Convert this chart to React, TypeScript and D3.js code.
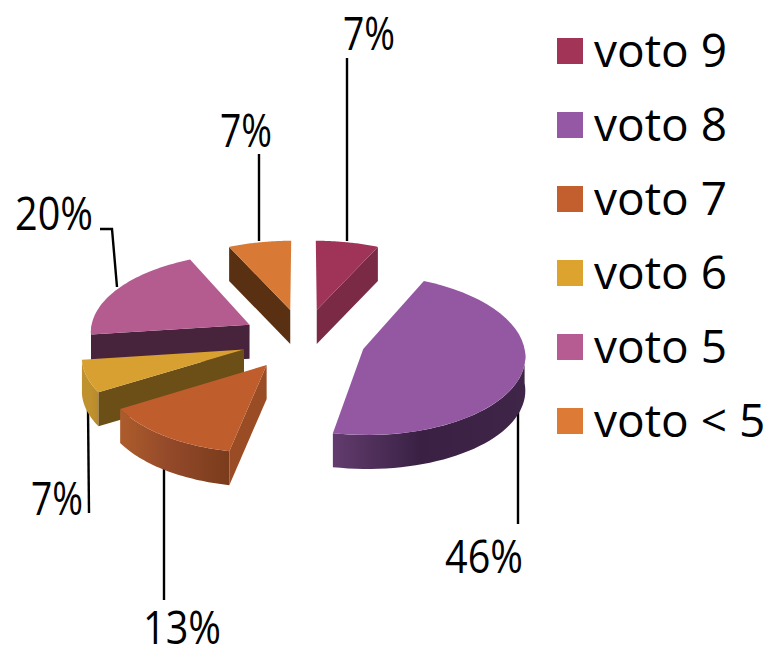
import React from "react";
import * as d3 from "d3";

const categories = ["voto 9", "voto 8", "voto 7", "voto 6", "voto 5", "voto < 5"];
const shares = [7, 46.2, 13.2, 6.6, 20, 7];
const labels = ["7%", "46%", "13%", "7%", "20%", "7%"];

// layout & style (separate from the data)
const W = 771, H = 648;
const FONT = "'Open Sans', sans-serif";
const faceColors = ["#a03358", "#9458a3", "#bf5d2d", "#d8a030", "#b45c90", "#d87a35"];
const legendColors = ["#a23458", "#9558a5", "#c35f2f", "#dca32f", "#b75c93", "#dd7a35"];
const wallColors = ["#7a2a45", "#3d2545", "#9a4d24", "#6b4f17", "#47243b", "#5a3013"];
const rimStops: [string, string, string][] = [
  ["#7a2a45", "#7a2a45", "#7a2a45"],
  ["#623c6e", "#3a2144", "#3f2548"],
  ["#ad5c2b", "#93492a", "#7a3c1c"],
  ["#c0922f", "#c0922f", "#b88a2a"],
  ["#47243b", "#47243b", "#47243b"],
  ["#5a3013", "#5a3013", "#5a3013"],
];
const drawOrder = [4, 3, 2, 5, 0, 1];
const cx = 303.5, cy = 339.3, A = 160, B = 79, K = 0.07, EXPLODE = 0.39, DEPTH = 34;

// leader lines and label anchors, by slice index
const leaders: [number, number][][] = [
  [[347, 58], [347, 241]],
  [[518, 408], [518, 524]],
  [[164, 468], [164, 600]],
  [[88, 408], [89, 513]],
  [[100, 229], [112, 229], [117, 287]],
  [[259, 154], [259, 241]],
];
const labelPos: [number, number][] = [[369, 50], [484, 573], [182, 644], [57, 515], [54, 230], [246, 147]];

const pie = d3.pie<number>().value((d) => d).sort(null);
const arcs = pie(shares);

function project(X: number, Z: number): [number, number] {
  return [cx + A * X * (1 + K * Z), cy + B * Z * (1 + K * Z)];
}

const line = d3.line<[number, number]>();
const legendY = d3.scalePoint<string>().domain(categories).range([38, 408]);

function rimPoints(t0: number, t1: number, ox: number, oz: number) {
  const n = 40;
  return d3.range(n + 1).map((i) => {
    const t = t0 + ((t1 - t0) * i) / n;
    return project(ox + Math.sin(t), oz - Math.cos(t));
  });
}

export default function App() {
  const slices = arcs.map((a, i) => {
    const mid = (a.startAngle + a.endAngle) / 2;
    const ox = EXPLODE * Math.sin(mid), oz = -EXPLODE * Math.cos(mid);
    const apex = project(ox, oz);
    const rim = rimPoints(a.startAngle, a.endAngle, ox, oz);
    const down = (p: [number, number]): [number, number] => [p[0], p[1] + DEPTH];
    const top = line([apex, ...rim])! + "Z";
    const startP = rim[0], endP = rim[rim.length - 1];
    const walls: string[] = [];
    if (Math.sin(a.startAngle) < -1e-6) walls.push(line([apex, startP, down(startP), down(apex)])! + "Z");
    if (Math.sin(a.endAngle) > 1e-6) walls.push(line([apex, endP, down(endP), down(apex)])! + "Z");
    const r0 = Math.max(a.startAngle, Math.PI / 2), r1 = Math.min(a.endAngle, (3 * Math.PI) / 2);
    let rimPath: string | null = null;
    let gx: [number, number] = [0, 1];
    if (r1 > r0) {
      const vis = rimPoints(r0, r1, ox, oz);
      rimPath = line([...vis, ...vis.slice().reverse().map(down)])! + "Z";
      const xs = vis.map((p) => p[0]);
      gx = [d3.min(xs)!, d3.max(xs)!];
    }
    return { i, top, walls, rimPath, gx };
  });

  return (
    <svg width={W} height={H} style={{ position: "absolute", left: 0, top: 0, background: "#fff" }}>
      <defs>
        {slices.map((s) =>
          s.rimPath ? (
            <linearGradient key={s.i} id={`rim${s.i}`} gradientUnits="userSpaceOnUse" x1={s.gx[0]} x2={s.gx[1]} y1={0} y2={0}>
              <stop offset="0" stopColor={rimStops[s.i][0]} />
              <stop offset="0.45" stopColor={rimStops[s.i][1]} />
              <stop offset="1" stopColor={rimStops[s.i][2]} />
            </linearGradient>
          ) : null
        )}
      </defs>
      {leaders.map((pts, i) => (
        <path key={i} d={line(pts)!} fill="none" stroke="#000" strokeWidth={2.4} />
      ))}
      {drawOrder.map((i) => {
        const s = slices[i];
        return (
          <g key={i}>
            {s.rimPath && <path d={s.rimPath} fill={`url(#rim${i})`} />}
            {s.walls.map((d, j) => (
              <path key={j} d={d} fill={wallColors[i]} />
            ))}
            <path d={s.top} fill={faceColors[i]} />
          </g>
        );
      })}
      {labels.map((t, i) => (
        <text
          key={i}
          x={labelPos[i][0]}
          y={labelPos[i][1]}
          textAnchor="middle"
          fontFamily={FONT}
          fontSize={46}
          fill="#000"
          textLength={t.length * 26}
          lengthAdjust="spacingAndGlyphs"
        >
          {t}
        </text>
      ))}
      {categories.map((c, i) => (
        <g key={c}>
          <rect x={557} y={legendY(c)!} width={26} height={26} fill={legendColors[i]} />
          <text x={594} y={legendY(c)! + 29} fontFamily={FONT} fontSize={46} fill="#000" style={{ whiteSpace: "pre" }}>
            {c}
          </text>
        </g>
      ))}
    </svg>
  );
}
